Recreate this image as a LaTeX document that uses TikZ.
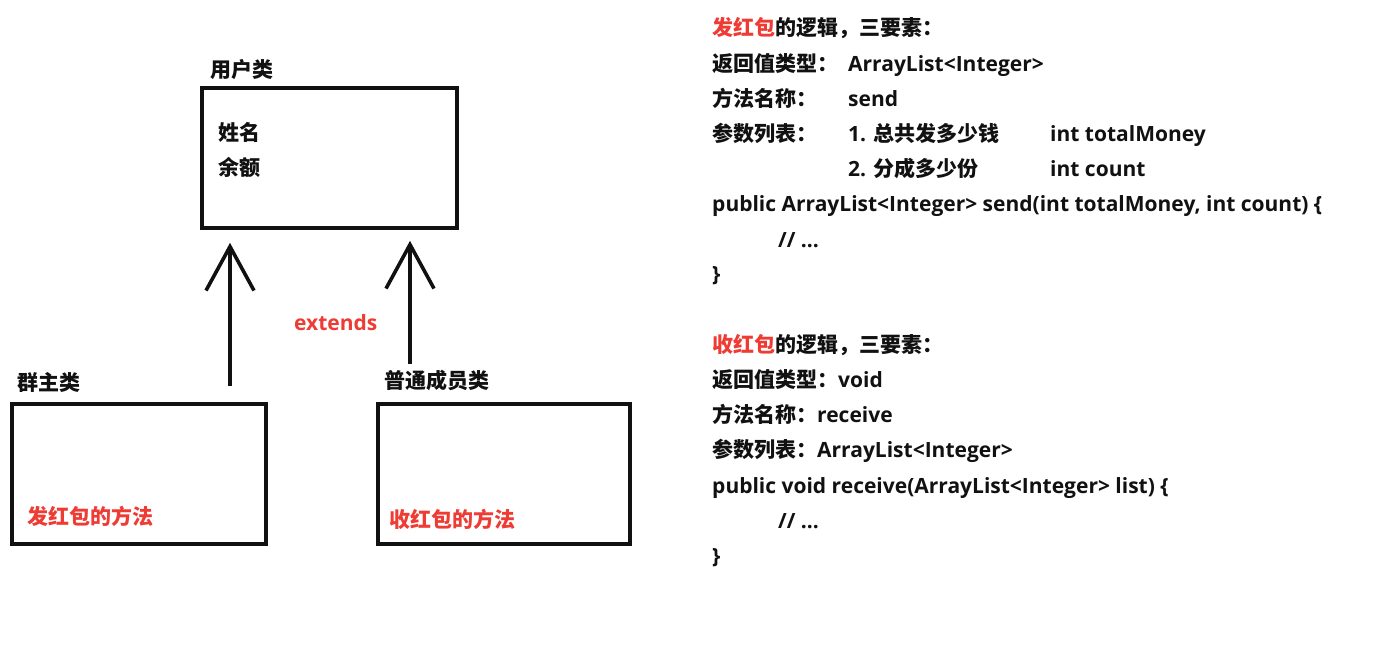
\documentclass[tikz,border=0pt]{standalone}
\usepackage{fontspec}
\setmainfont{Open Sans}
\newfontfamily\cjk{Noto Sans CJK SC}
\usetikzlibrary{arrows.meta,positioning}
\definecolor{ink}{HTML}{111111}
\definecolor{redTxt}{HTML}{EE3B33}
\newcommand{\zh}[1]{{\cjk #1}}
\tikzset{
  clsbox/.style={draw=ink,line width=3.6pt,inner sep=0pt,minimum width=255pt,minimum height=140pt},
  txt/.style={font=\fontsize{21}{25}\selectfont\bfseries,text=ink,anchor=west,inner sep=0pt,
    text height=15.5pt,text depth=5pt},
  redtxt/.style={txt,text=redTxt},
  inh/.style={draw=ink,line width=3.6pt,-{Straight Barb[length=44pt,width=48pt]}}}
\begin{document}
\begin{tikzpicture}[x=1pt,y=-1pt]
\useasboundingbox (0,0) rectangle (1374,654);
% class boxes
\node[clsbox] (user) at (329.5,158) {};
\node[clsbox,minimum width=254pt] (owner) at (139,474) {};
\node[clsbox,minimum width=252pt] (member) at (504,474) {};
\node[txt] (userLab) at (210,72) {\zh{用户类}};
\node[txt] (ownerLab) at (17,385) {\zh{群主类}};
\node[txt] (memberLab) at (384,383) {\zh{普通成员类}};
\node[txt] (uName) at (218,135) {\zh{姓名}};
\node[txt] (uMoney) at (218,170) {\zh{余额}};
\node[redtxt] (oSend) at (27,519) {\zh{发红包的方法}};
\node[redtxt] (mRecv) at (389,522) {\zh{收红包的方法}};
% inheritance arrows
\coordinate (oTail) at (230,386);
\coordinate (mTail) at (410,364);
\draw[inh,shorten >=13pt] (oTail) -- (oTail |- user.south);
\draw[inh,shorten >=11pt] (mTail) -- (mTail |- user.south);
\node[redtxt] (ext) at (294,325) {extends};
% send logic
\node[txt] (s0) at (712,30) {\textcolor{redTxt}{\zh{发红包}}\zh{的逻辑，三要素：}};
\node[txt] (s1) at (712,66) {\zh{返回值类型：}};
\node[txt] (s1v) at (848,66) {ArrayList<Integer>};
\node[txt] (s2) at (712,101) {\zh{方法名称：}};
\node[txt] (s2v) at (848,101) {send};
\node[txt] (s3) at (712,136) {\zh{参数列表：}};
\node[txt] (s3a) at (848,136) {1. \zh{总共发多少钱}};
\node[txt] (s3b) at (1050,136) {int totalMoney};
\node[txt] (s4a) at (848,171) {2. \zh{分成多少份}};
\node[txt] (s4b) at (1050,171) {int count};
\node[txt] (s5) at (712,206) {public ArrayList<Integer> send(int totalMoney, int count) \{};
\node[txt] (s6) at (778,242) {// ...};
\node[txt] (s7) at (712,276) {\}};
% receive logic
\node[txt] (r0) at (712,347) {\textcolor{redTxt}{\zh{收红包}}\zh{的逻辑，三要素：}};
\node[txt] (r1) at (712,382) {\zh{返回值类型：}void};
\node[txt] (r2) at (712,417) {\zh{方法名称：}receive};
\node[txt] (r3) at (712,452) {\zh{参数列表：}ArrayList<Integer>};
\node[txt] (r4) at (712,488) {public void receive(ArrayList<Integer> list) \{};
\node[txt] (r5) at (778,523) {// ...};
\node[txt] (r6) at (712,558) {\}};
\end{tikzpicture}
\end{document}
